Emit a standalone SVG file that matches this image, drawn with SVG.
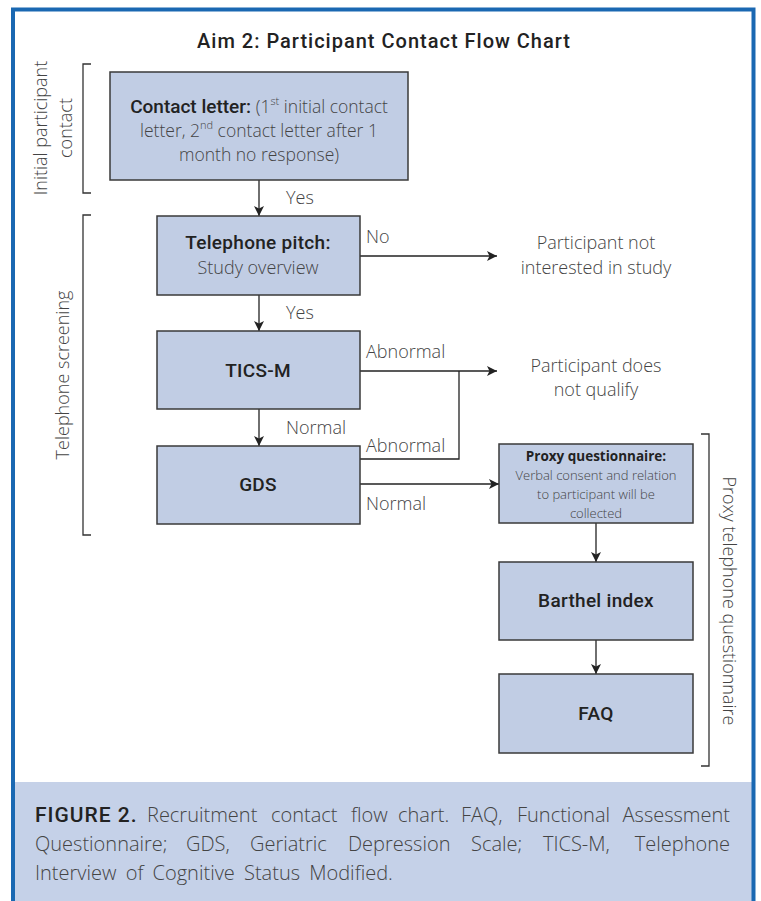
<svg xmlns="http://www.w3.org/2000/svg" width="761" height="901" viewBox="0 0 761 901">
<style>
.box{fill:#c1cde4;stroke:#3a3a3a;stroke-width:1.5}
.lbl{font-family:Roboto,"Liberation Sans",sans-serif;font-weight:500;fill:#222;text-anchor:middle;letter-spacing:0.3px}
.lt{font-family:"Open Sans","Liberation Sans",sans-serif;font-weight:300;fill:#444}
.ln{fill:none;stroke:#222;stroke-width:1.3}
.br{fill:none;stroke:#333;stroke-width:1.3}
</style>
<defs>
<marker id="ah" viewBox="0 0 10 10" refX="10" refY="5" markerWidth="10" markerHeight="10" markerUnits="userSpaceOnUse" orient="auto">
<path d="M0,0 L10,5 L0,10 L2.5,5 z" fill="#222"/>
</marker>
</defs>
<rect x="0" y="0" width="761" height="901" fill="#fff"/>
<rect x="15" y="782" width="738" height="119" fill="#c5d1e8"/>
<path d="M13,901 V9.5 H753.5 V901" fill="none" stroke="#1a68b2" stroke-width="4"/>
<text x="384" y="48" font-family="Roboto,'Liberation Sans',sans-serif" font-weight="500" font-size="20" letter-spacing="1" fill="#222" text-anchor="middle">Aim 2: Participant Contact Flow Chart</text>

<g id="brackets">
<path class="br" d="M91,64 H83 V193 H91"/>
<path class="br" d="M91,215 H83 V535 H91"/>
<path class="br" d="M701,434 H709 V766 H701"/>
<text class="lt" font-size="18" transform="translate(47,128) rotate(-90)" text-anchor="middle">Initial participant</text>
<text class="lt" font-size="18" transform="translate(72,128) rotate(-90)" text-anchor="middle">contact</text>
<text class="lt" font-size="18" transform="translate(69,375) rotate(-90)" text-anchor="middle">Telephone screening</text>
<text class="lt" font-size="18" transform="translate(723,601) rotate(90)" text-anchor="middle">Proxy telephone questionnaire</text>
</g>

<g id="connectors">
<line class="ln" x1="259" y1="180" x2="259" y2="216" marker-end="url(#ah)"/>
<line class="ln" x1="360" y1="256" x2="497" y2="256" marker-end="url(#ah)"/>
<line class="ln" x1="259" y1="295" x2="259" y2="331" marker-end="url(#ah)"/>
<line class="ln" x1="360" y1="371" x2="497" y2="371" marker-end="url(#ah)"/>
<polyline class="ln" points="360,459 459,459 459,371"/>
<line class="ln" x1="259" y1="409" x2="259" y2="446" marker-end="url(#ah)"/>
<line class="ln" x1="360" y1="484" x2="499" y2="484" marker-end="url(#ah)"/>
<line class="ln" x1="596" y1="523" x2="596" y2="562" marker-end="url(#ah)"/>
<line class="ln" x1="596" y1="640" x2="596" y2="674" marker-end="url(#ah)"/>
<g class="lt" font-size="18">
<text x="286" y="204">Yes</text>
<text x="366" y="243">No</text>
<text x="286" y="319">Yes</text>
<text x="366" y="358">Abnormal</text>
<text x="286" y="434">Normal</text>
<text x="366" y="452">Abnormal</text>
<text x="366" y="510">Normal</text>
</g>
</g>

<g id="contact-letter">
<rect class="box" x="110" y="72" width="298" height="108"/>
<text class="lt" font-size="17.5" text-anchor="middle"><tspan x="259" y="113"><tspan font-family="Roboto,'Liberation Sans',sans-serif" font-weight="500" fill="#222" font-size="19">Contact letter: </tspan>(1<tspan font-size="11" dy="-8">st</tspan><tspan dy="8"> initial contact</tspan></tspan><tspan x="259" y="137">letter, 2<tspan font-size="11" dy="-8">nd</tspan><tspan dy="8"> contact letter after 1</tspan></tspan><tspan x="259" y="161">month no response)</tspan></text>
</g>

<g id="telephone-pitch">
<rect class="box" x="157" y="216" width="203" height="79"/>
<text class="lbl" x="258" y="249" font-size="19">Telephone pitch:</text>
<text class="lt" x="258" y="274" font-size="18" text-anchor="middle">Study overview</text>
</g>

<g id="not-interested">
<text class="lt" font-size="18" text-anchor="middle"><tspan x="596" y="249">Participant not</tspan><tspan x="596" y="274">interested in study</tspan></text>
</g>

<g id="tics-m">
<rect class="box" x="157" y="331" width="203" height="78"/>
<text class="lbl" x="258" y="377" font-size="19">TICS-M</text>
</g>

<g id="not-qualify">
<text class="lt" font-size="18" text-anchor="middle"><tspan x="596" y="372">Participant does</tspan><tspan x="596" y="396">not qualify</tspan></text>
</g>

<g id="gds">
<rect class="box" x="157" y="446" width="203" height="78"/>
<text class="lbl" x="258" y="491" font-size="19">GDS</text>
</g>

<g id="proxy">
<rect class="box" x="499" y="444" width="194" height="79"/>
<text x="596" y="461" font-family="'Open Sans','Liberation Sans',sans-serif" font-weight="700" font-size="13.5" fill="#222" text-anchor="middle">Proxy questionnaire:</text>
<text class="lt" font-size="13" text-anchor="middle"><tspan x="596" y="480">Verbal consent and relation</tspan><tspan x="596" y="499">to participant will be</tspan><tspan x="596" y="518">collected</tspan></text>
</g>

<g id="barthel">
<rect class="box" x="499" y="562" width="194" height="78"/>
<text class="lbl" x="596" y="607" font-size="19">Barthel index</text>
</g>

<g id="faq">
<rect class="box" x="499" y="674" width="194" height="79"/>
<text class="lbl" x="596" y="720" font-size="19">FAQ</text>
</g>

<g id="caption" font-size="20">
<text class="lt"><tspan x="35" y="822" font-family="Roboto,'Liberation Sans',sans-serif" font-weight="500" font-size="21" letter-spacing="1" fill="#222">FIGURE 2.</tspan><tspan x="147" y="822">Recruitment</tspan><tspan x="271" y="822">contact</tspan><tspan x="351" y="822">flow</tspan><tspan x="398" y="822">chart.</tspan><tspan x="461" y="822">FAQ,</tspan><tspan x="517" y="822">Functional</tspan><tspan x="730" y="822" text-anchor="end">Assessment</tspan></text>
<text class="lt"><tspan x="35" y="851">Questionnaire;</tspan><tspan x="186" y="851">GDS,</tspan><tspan x="250" y="851">Geriatric</tspan><tspan x="348" y="851">Depression</tspan><tspan x="471" y="851">Scale;</tspan><tspan x="543" y="851">TICS-M,</tspan><tspan x="730" y="851" text-anchor="end">Telephone</tspan></text>
<text class="lt" x="35" y="880" word-spacing="4">Interview of Cognitive Status Modified.</text>
</g>
</svg>
